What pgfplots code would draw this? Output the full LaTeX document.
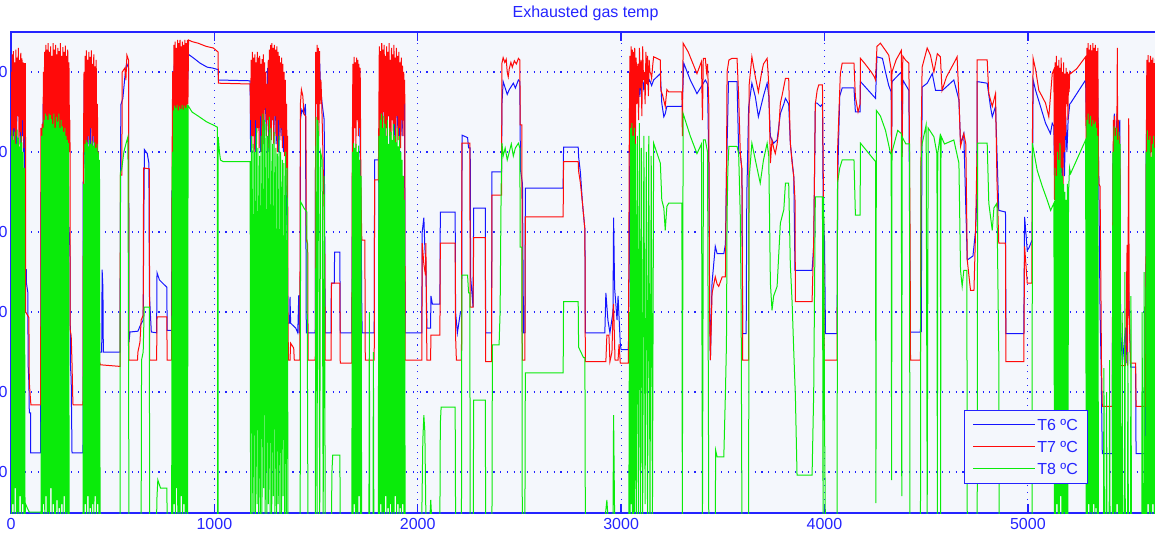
\documentclass[border=0pt]{standalone}
\usepackage{fontspec}
\setmainfont{Liberation Sans}
\usepackage{pgfplots}
\pgfplotsset{compat=1.18}
\usepackage{pgfplotstable}

\definecolor{plotbg}{RGB}{244,247,252}
\definecolor{frameblue}{RGB}{36,36,255}
\definecolor{tsix}{RGB}{20,20,255}
\definecolor{tseven}{RGB}{255,10,10}
\definecolor{teight}{RGB}{10,235,10}

% T6 exhaust temperature
\pgfplotstableread[row sep=\\]{
x y\\
0 590\\ 3 500\\ 6 600\\ 9 490\\ 12 605\\ 15 520\\ 18 596\\ 21 480\\ 24 610\\ 27 500\\ 30 590\\ 33 560\\ 36 584\\ 39 555\\ 42 600\\ 45 510\\ 48 598\\ 51 490\\ 54 602\\ 57 520\\ 60 595\\ 62 500\\ 64 590\\ 66 480\\ 68 600\\
70 353\\ 75 353\\ 76 336\\ 83 324\\ 84 236\\ 88 211\\ 90 174\\ 96 174\\ 97 124\\ 146 124\\
147 450\\ 152 350\\ 158 560\\ 164 420\\ 170 600\\ 176 450\\ 182 590\\ 188 480\\ 191 565\\ 194 610\\ 200 480\\ 206 600\\ 212 470\\ 218 595\\ 224 480\\ 230 590\\ 234 577\\ 238 548\\ 244 600\\ 250 460\\ 256 595\\ 262 470\\ 268 590\\ 274 480\\ 280 580\\ 284 400\\ 286 402\\ 290 377\\ 292 236\\ 296 215\\ 300 124\\ 354 124\\
355 463\\ 357 452\\ 360 590\\ 366 480\\ 372 605\\ 378 500\\ 384 600\\ 390 510\\ 396 605\\ 402 490\\ 408 598\\ 414 470\\ 416 250\\ 446 250\\ 448 353\\ 452 330\\ 454 250\\ 536 250\\
540 559\\ 550 567\\ 560 594\\ 568 611\\ 578 605\\ 580 262\\ 585 275\\ 624 276\\ 634 282\\ 640 285\\ 650 290\\ 652 380\\ 656 503\\ 670 498\\ 678 486\\ 681 319\\ 690 275\\ 716 274\\ 718 349\\ 730 340\\ 766 331\\ 768 277\\ 790 277\\
791 452\\ 794 415\\ 797 560\\ 803 610\\ 809 520\\ 815 621\\ 821 540\\ 827 615\\ 833 520\\ 839 621\\ 845 560\\ 851 618\\ 857 530\\ 863 620\\ 869 590\\ 873 622\\ 900 617\\ 930 611\\ 965 606\\ 990 605\\ 1018 603\\ 1020 590\\ 1176 589\\
1178 500\\ 1184 611\\ 1190 520\\ 1196 590\\ 1202 500\\ 1208 605\\ 1214 560\\ 1220 611\\ 1226 500\\ 1232 580\\ 1238 510\\ 1244 600\\ 1250 569\\ 1256 520\\ 1262 605\\ 1268 500\\ 1274 600\\ 1280 520\\ 1286 611\\ 1292 520\\ 1298 590\\ 1304 510\\ 1310 600\\ 1316 500\\ 1322 585\\ 1328 520\\ 1334 575\\ 1340 500\\ 1346 560\\ 1352 460\\ 1358 400\\ 1362 286\\
1370 286\\ 1372 319\\ 1375 286\\ 1400 280\\ 1410 274\\ 1415 321\\ 1418 274\\ 1422 274\\ 1423 540\\ 1430 553\\ 1440 548\\ 1448 560\\ 1452 274\\ 1496 274\\
1498 600\\ 1505 611\\ 1512 590\\ 1518 611\\ 1522 580\\ 1530 560\\ 1540 540\\ 1545 274\\ 1574 274\\ 1575 336\\ 1590 336\\ 1591 375\\ 1617 375\\ 1619 274\\ 1676 274\\
1680 520\\ 1686 582\\ 1692 530\\ 1698 575\\ 1704 544\\ 1710 580\\ 1716 520\\ 1722 400\\ 1725 300\\ 1727 274\\ 1786 274\\ 1788 490\\ 1808 490\\ 1810 273\\ 1812 420\\
1815 520\\ 1821 620\\ 1827 530\\ 1833 610\\ 1839 520\\ 1845 615\\ 1851 540\\ 1857 620\\ 1863 510\\ 1869 600\\ 1875 540\\ 1881 615\\ 1887 520\\ 1893 605\\ 1899 530\\ 1905 612\\ 1911 510\\ 1917 600\\ 1923 520\\ 1929 590\\ 1935 560\\ 1938 274\\
2020 274\\ 2022 400\\ 2030 418\\ 2035 380\\ 2040 361\\ 2045 280\\ 2063 280\\ 2065 320\\ 2072 310\\ 2109 310\\ 2111 425\\ 2184 425\\ 2186 300\\ 2195 274\\ 2210 300\\ 2216 300\\ 2218 521\\ 2245 518\\ 2250 505\\ 2258 505\\ 2260 344\\ 2272 306\\ 2275 430\\ 2332 430\\ 2334 274\\ 2363 274\\ 2365 475\\ 2412 475\\
2414 560\\ 2420 588\\ 2430 580\\ 2440 572\\ 2450 578\\ 2460 582\\ 2470 586\\ 2480 580\\ 2495 590\\ 2502 588\\ 2505 478\\ 2515 460\\ 2520 274\\ 2527 274\\ 2529 455\\ 2715 455\\ 2717 506\\ 2789 506\\ 2791 494\\ 2800 474\\ 2810 436\\ 2822 403\\ 2824 274\\ 2920 274\\
2925 324\\ 2935 290\\ 2945 274\\ 2960 300\\ 2963 418\\ 2968 330\\ 2980 290\\ 2985 320\\ 2996 260\\ 3000 253\\ 3036 253\\
3038 323\\ 3040 360\\ 3044 560\\ 3050 600\\ 3056 520\\ 3062 611\\ 3068 540\\ 3074 600\\ 3080 575\\ 3086 605\\ 3092 569\\ 3100 600\\ 3110 580\\ 3120 598\\ 3130 585\\ 3140 590\\ 3150 583\\ 3160 590\\ 3193 598\\ 3200 561\\ 3210 544\\ 3217 548\\ 3225 557\\ 3299 557\\
3301 560\\ 3308 611\\ 3340 590\\ 3373 573\\ 3395 582\\ 3414 590\\ 3425 585\\ 3431 486\\ 3436 290\\ 3439 240\\ 3447 336\\ 3463 382\\ 3472 373\\ 3505 373\\ 3513 385\\ 3518 473\\ 3528 588\\ 3570 588\\ 3578 500\\ 3586 498\\ 3594 478\\ 3598 273\\ 3615 273\\ 3618 444\\
3627 556\\ 3643 586\\ 3660 569\\ 3675 544\\ 3700 570\\ 3718 586\\ 3726 570\\ 3734 519\\ 3750 511\\ 3767 515\\ 3783 548\\ 3800 560\\ 3808 567\\ 3824 560\\ 3832 511\\ 3849 469\\ 3855 352\\ 3939 352\\ 3947 382\\ 3955 561\\ 3964 561\\ 3980 557\\ 3990 560\\ 3994 420\\ 4000 390\\ 4005 273\\ 4062 273\\
4065 470\\ 4075 570\\ 4087 580\\ 4145 580\\ 4152 550\\ 4175 550\\ 4177 588\\ 4251 567\\ 4258 619\\ 4285 617\\ 4300 600\\ 4316 583\\ 4328 575\\ 4330 500\\ 4332 588\\ 4378 600\\ 4382 500\\ 4385 590\\ 4415 577\\ 4421 275\\ 4472 275\\ 4474 365\\ 4476 275\\
4480 581\\ 4505 586\\ 4530 598\\ 4546 577\\ 4580 577\\ 4636 590\\ 4661 565\\ 4669 511\\ 4685 523\\ 4702 365\\ 4730 370\\ 4743 402\\ 4750 450\\ 4751 588\\ 4800 586\\ 4816 557\\ 4825 544\\ 4841 557\\ 4857 427\\ 4890 425\\ 4892 273\\ 4980 273\\
4984 419\\ 4997 377\\ 5005 380\\ 5021 390\\ 5026 590\\ 5038 577\\ 5062 557\\ 5087 536\\ 5111 523\\ 5120 536\\ 5128 532\\
5132 450\\ 5138 561\\ 5144 440\\ 5150 540\\ 5156 436\\ 5162 555\\ 5168 450\\ 5174 530\\ 5180 470\\ 5186 545\\ 5192 500\\ 5198 540\\ 5206 560\\ 5210 561\\ 5284 590\\
5288 530\\ 5294 600\\ 5300 540\\ 5306 615\\ 5312 560\\ 5318 605\\ 5324 540\\ 5330 610\\ 5336 570\\ 5342 600\\ 5349 461\\ 5355 302\\ 5360 236\\ 5366 123\\ 5415 123\\
5418 480\\ 5425 548\\ 5430 470\\ 5438 548\\ 5445 480\\ 5452 540\\ 5456 277\\ 5465 236\\ 5480 280\\ 5483 236\\ 5492 360\\ 5500 290\\ 5505 231\\ 5530 231\\ 5532 123\\ 5579 123\\
5582 500\\ 5588 600\\ 5594 520\\ 5600 595\\ 5606 510\\ 5612 600\\ 5618 500\\ 5624 590\\ 5630 520\\ 5640 580\\
}\tsixdata

% T7 exhaust temperature
\pgfplotstableread[row sep=\\]{
x y\\
0 600\\ 3 515\\ 6 622\\ 9 505\\ 12 626\\ 15 530\\ 18 612\\ 21 500\\ 24 628\\ 27 520\\ 30 618\\ 33 545\\ 36 630\\ 39 508\\ 42 615\\ 45 525\\ 48 624\\ 51 500\\ 54 617\\ 57 540\\ 60 612\\ 63 505\\ 66 611\\ 69 520\\ 71 611\\
72 300\\ 88 293\\ 90 212\\ 96 190\\ 98 184\\ 146 184\\
147 530\\ 150 365\\ 153 535\\ 156 380\\ 159 600\\ 162 420\\ 165 625\\ 168 470\\ 171 634\\ 174 455\\ 177 628\\ 180 480\\ 183 636\\ 186 465\\ 189 625\\ 192 500\\ 195 632\\ 198 470\\ 201 620\\ 204 455\\ 207 636\\ 210 490\\ 213 628\\ 216 470\\ 219 634\\ 222 505\\ 225 622\\ 228 460\\ 231 630\\ 234 480\\ 237 626\\ 240 500\\ 243 636\\ 246 470\\ 249 620\\ 252 490\\ 255 631\\ 258 475\\ 261 625\\ 264 500\\ 267 633\\ 270 465\\ 273 620\\ 276 495\\ 279 628\\ 282 470\\ 285 612\\ 288 500\\ 290 540\\
291 278\\ 296 270\\ 300 236\\ 304 190\\ 305 184\\ 354 184\\
356 480\\ 359 600\\ 362 500\\ 365 620\\ 368 510\\ 371 627\\ 374 495\\ 377 615\\ 380 520\\ 383 625\\ 386 505\\ 389 619\\ 392 530\\ 395 627\\ 398 500\\ 401 610\\ 404 520\\ 407 622\\ 410 498\\ 413 607\\ 416 470\\ 419 615\\ 422 440\\ 425 560\\ 428 407\\ 430 500\\ 432 240\\ 440 234\\ 536 232\\
538 471\\ 545 471\\ 547 600\\ 560 605\\ 565 590\\ 570 621\\ 578 615\\ 580 240\\ 622 240\\ 624 250\\ 634 262\\ 640 290\\ 650 296\\ 652 480\\ 680 479\\ 682 240\\ 716 240\\ 718 294\\ 766 294\\ 768 240\\ 790 240\\
792 486\\ 795 600\\ 798 500\\ 801 634\\ 804 520\\ 807 638\\ 810 490\\ 813 630\\ 816 540\\ 819 640\\ 822 500\\ 825 636\\ 828 520\\ 831 640\\ 834 495\\ 837 632\\ 840 530\\ 843 638\\ 846 505\\ 849 634\\ 852 545\\ 855 640\\ 858 510\\ 861 636\\ 864 530\\ 867 640\\ 870 560\\ 873 640\\
890 638\\ 920 636\\ 960 632\\ 995 630\\ 1018 625\\ 1020 586\\ 1176 585\\
1178 540\\ 1181 615\\ 1184 505\\ 1187 625\\ 1190 520\\ 1193 618\\ 1196 500\\ 1199 622\\ 1202 540\\ 1205 612\\ 1208 510\\ 1211 625\\ 1214 530\\ 1217 618\\ 1220 505\\ 1223 620\\ 1226 545\\ 1229 610\\ 1232 500\\ 1235 616\\ 1238 530\\ 1241 622\\ 1244 510\\ 1247 612\\ 1250 555\\ 1253 600\\ 1256 520\\ 1259 585\\ 1262 540\\ 1265 615\\ 1268 505\\ 1271 628\\ 1274 530\\ 1277 634\\ 1280 515\\ 1283 636\\ 1286 540\\ 1289 630\\ 1292 510\\ 1295 634\\ 1298 545\\ 1301 628\\ 1304 520\\ 1307 632\\ 1310 500\\ 1313 625\\ 1316 540\\ 1319 620\\ 1322 515\\ 1325 612\\ 1328 530\\ 1331 618\\ 1334 505\\ 1337 610\\ 1340 520\\ 1343 600\\ 1346 495\\ 1349 590\\ 1352 480\\ 1355 560\\ 1358 450\\ 1360 520\\ 1362 300\\ 1364 240\\
1372 240\\ 1375 261\\ 1390 255\\ 1393 240\\ 1420 240\\ 1423 560\\ 1428 578\\ 1435 570\\ 1440 548\\ 1450 544\\ 1452 390\\ 1459 385\\ 1461 240\\ 1496 240\\
1498 625\\ 1502 560\\ 1505 634\\ 1508 540\\ 1511 630\\ 1514 520\\ 1517 626\\ 1520 560\\ 1524 590\\ 1528 560\\ 1532 520\\ 1536 470\\ 1540 420\\ 1543 368\\ 1545 240\\ 1574 240\\ 1576 336\\ 1617 336\\ 1619 236\\ 1676 236\\
1678 480\\ 1681 610\\ 1684 510\\ 1687 619\\ 1690 530\\ 1693 612\\ 1696 505\\ 1699 618\\ 1702 540\\ 1705 615\\ 1708 520\\ 1711 610\\ 1714 530\\ 1717 605\\ 1720 480\\ 1722 430\\ 1725 390\\ 1740 390\\ 1742 240\\ 1786 240\\ 1788 465\\ 1806 465\\
1808 520\\ 1811 632\\ 1814 505\\ 1817 626\\ 1820 540\\ 1823 636\\ 1826 510\\ 1829 628\\ 1832 550\\ 1835 634\\ 1838 515\\ 1841 620\\ 1844 530\\ 1847 632\\ 1850 505\\ 1853 625\\ 1856 545\\ 1859 636\\ 1862 520\\ 1865 615\\ 1868 500\\ 1871 630\\ 1874 540\\ 1877 622\\ 1880 510\\ 1883 634\\ 1886 535\\ 1889 618\\ 1892 505\\ 1895 630\\ 1898 545\\ 1901 620\\ 1904 515\\ 1907 625\\ 1910 530\\ 1913 612\\ 1916 505\\ 1919 618\\ 1922 540\\ 1925 608\\ 1928 520\\ 1931 600\\ 1934 560\\ 1936 590\\ 1938 240\\
2020 240\\ 2022 386\\ 2030 360\\ 2038 346\\ 2040 386\\ 2045 240\\ 2063 240\\ 2065 271\\ 2109 271\\ 2111 386\\ 2184 386\\ 2186 270\\ 2190 240\\ 2215 240\\ 2217 511\\ 2256 511\\ 2258 306\\ 2272 306\\ 2275 393\\ 2332 393\\ 2334 238\\ 2363 238\\ 2365 446\\ 2412 446\\
2414 611\\ 2420 618\\ 2428 612\\ 2435 616\\ 2440 600\\ 2445 594\\ 2450 604\\ 2458 612\\ 2465 606\\ 2475 614\\ 2485 610\\ 2495 617\\ 2502 615\\ 2504 534\\ 2512 534\\ 2514 240\\ 2527 240\\ 2529 419\\ 2715 419\\ 2717 488\\ 2789 488\\ 2791 476\\ 2800 461\\ 2810 436\\ 2822 403\\ 2824 238\\ 2920 238\\
2925 238\\ 2930 271\\ 2940 271\\ 2945 238\\ 2955 250\\ 2960 300\\ 2963 310\\ 2970 240\\ 2985 240\\ 2990 260\\ 2996 236\\ 3036 236\\
3040 510\\ 3043 620\\ 3046 500\\ 3049 632\\ 3052 515\\ 3055 628\\ 3058 480\\ 3061 625\\ 3064 520\\ 3067 630\\ 3070 505\\ 3074 618\\ 3078 560\\ 3082 610\\ 3086 540\\ 3090 630\\ 3094 580\\ 3098 615\\ 3102 545\\ 3106 632\\ 3110 590\\ 3114 600\\ 3118 560\\ 3122 625\\ 3126 585\\ 3130 620\\ 3134 570\\ 3138 615\\ 3142 600\\ 3146 598\\ 3150 592\\ 3156 610\\ 3160 619\\
3193 615\\ 3195 578\\ 3205 570\\ 3217 557\\ 3225 578\\ 3234 575\\ 3299 575\\ 3301 520\\ 3305 636\\ 3330 625\\ 3373 598\\ 3395 613\\ 3400 540\\ 3404 617\\ 3414 617\\ 3420 600\\ 3425 610\\ 3431 560\\ 3435 300\\ 3439 240\\
3447 323\\ 3463 344\\ 3472 335\\ 3480 332\\ 3497 344\\ 3513 344\\ 3518 473\\ 3521 600\\ 3530 615\\ 3545 617\\ 3570 617\\ 3578 570\\ 3586 498\\ 3594 478\\ 3598 240\\ 3627 240\\
3629 582\\ 3643 619\\ 3660 594\\ 3675 575\\ 3690 598\\ 3700 610\\ 3718 617\\ 3726 585\\ 3734 486\\ 3742 515\\ 3750 505\\ 3758 498\\ 3767 510\\ 3775 527\\ 3783 561\\ 3791 570\\ 3808 592\\ 3824 592\\ 3832 511\\ 3841 486\\ 3849 469\\ 3855 440\\ 3857 313\\ 3939 313\\
3947 390\\ 3955 560\\ 3964 577\\ 3972 584\\ 3990 584\\ 3994 470\\ 3999 240\\ 4062 240\\
4065 507\\ 4078 598\\ 4087 611\\ 4145 611\\ 4152 569\\ 4165 550\\ 4175 560\\ 4177 617\\ 4200 610\\ 4230 600\\ 4245 594\\ 4251 590\\ 4258 632\\ 4275 636\\ 4300 627\\ 4316 621\\ 4328 603\\ 4330 494\\ 4332 600\\ 4352 615\\ 4378 627\\ 4382 494\\ 4385 620\\ 4398 615\\ 4415 611\\ 4421 390\\ 4423 240\\ 4472 240\\
4474 482\\ 4480 606\\ 4505 630\\ 4521 621\\ 4538 600\\ 4555 623\\ 4570 619\\ 4578 577\\ 4600 594\\ 4636 611\\ 4652 619\\ 4661 569\\ 4669 507\\ 4685 523\\ 4695 510\\ 4702 365\\ 4718 327\\ 4735 327\\ 4743 402\\ 4750 500\\
4751 615\\ 4800 615\\ 4808 573\\ 4825 557\\ 4841 573\\ 4848 465\\ 4857 386\\ 4890 386\\ 4892 238\\ 4980 238\\
4984 382\\ 4997 336\\ 5020 336\\ 5021 480\\ 5026 617\\ 5038 603\\ 5054 577\\ 5071 569\\ 5087 561\\ 5103 544\\ 5120 598\\ 5128 603\\
5131 440\\ 5134 612\\ 5137 450\\ 5140 620\\ 5143 470\\ 5146 608\\ 5149 436\\ 5152 615\\ 5155 460\\ 5158 605\\ 5161 440\\ 5164 618\\ 5167 480\\ 5170 600\\ 5173 450\\ 5176 612\\ 5179 500\\ 5182 598\\ 5185 520\\ 5188 605\\ 5191 560\\ 5194 600\\ 5197 540\\ 5200 598\\ 5203 575\\ 5206 600\\ 5210 598\\ 5240 604\\ 5284 619\\
5287 480\\ 5290 630\\ 5293 470\\ 5296 636\\ 5299 500\\ 5302 628\\ 5305 480\\ 5308 634\\ 5311 520\\ 5314 627\\ 5317 490\\ 5320 636\\ 5323 470\\ 5326 630\\ 5329 510\\ 5332 634\\ 5335 485\\ 5338 626\\ 5341 520\\ 5344 630\\ 5347 495\\ 5349 460\\ 5355 457\\ 5360 302\\ 5362 235\\ 5366 182\\ 5415 182\\
5418 470\\ 5421 540\\ 5424 460\\ 5427 545\\ 5430 480\\ 5433 530\\ 5436 460\\ 5440 630\\ 5442 470\\ 5445 540\\ 5448 470\\ 5451 520\\ 5454 460\\ 5456 233\\ 5480 233\\ 5488 384\\ 5490 233\\ 5496 542\\ 5498 300\\ 5505 236\\ 5530 236\\ 5532 182\\ 5579 182\\
5582 480\\ 5585 615\\ 5588 470\\ 5591 621\\ 5594 490\\ 5597 612\\ 5600 460\\ 5603 620\\ 5606 500\\ 5609 615\\ 5612 470\\ 5615 618\\ 5618 490\\ 5621 611\\ 5624 480\\ 5627 616\\ 5630 500\\ 5640 610\\
}\tsevendata

% T8 exhaust temperature
\pgfplotstableread[row sep=\\]{
x y\\
0 520\\ 3 45\\ 6 527\\ 9 60\\ 12 515\\ 15 45\\ 18 525\\ 21 80\\ 24 510\\ 27 45\\ 30 528\\ 33 50\\ 36 518\\ 39 45\\ 42 507\\ 45 70\\ 48 520\\ 51 45\\ 54 512\\ 57 60\\ 60 500\\ 63 45\\ 66 480\\ 69 45\\
72 60\\ 80 55\\ 90 50\\ 146 50\\
148 45\\ 151 520\\ 154 45\\ 157 530\\ 160 60\\ 163 540\\ 166 45\\ 169 548\\ 172 70\\ 175 545\\ 178 45\\ 181 540\\ 184 50\\ 187 548\\ 190 45\\ 193 546\\ 196 80\\ 199 541\\ 202 45\\ 205 535\\ 208 60\\ 211 548\\ 214 45\\ 217 530\\ 220 45\\ 223 544\\ 226 65\\ 229 538\\ 232 45\\ 235 548\\ 238 55\\ 241 530\\ 244 45\\ 247 540\\ 250 60\\ 253 532\\ 256 45\\ 259 525\\ 262 70\\ 265 530\\ 268 45\\ 271 520\\ 274 50\\ 277 515\\ 280 45\\ 283 511\\ 286 45\\ 354 45\\
357 460\\ 360 45\\ 363 510\\ 366 60\\ 369 515\\ 372 45\\ 375 512\\ 378 70\\ 381 507\\ 384 45\\ 387 515\\ 390 55\\ 393 510\\ 396 45\\ 399 514\\ 402 60\\ 405 508\\ 408 45\\ 411 512\\ 414 70\\ 417 505\\ 420 45\\ 423 510\\ 426 60\\ 429 500\\ 432 45\\ 435 490\\ 438 50\\ 441 45\\ 536 45\\
538 474\\ 545 480\\ 555 500\\ 565 510\\ 575 519\\ 580 45\\ 640 45\\ 642 240\\ 650 250\\ 655 306\\ 680 306\\ 682 45\\ 716 45\\ 718 70\\ 722 90\\ 735 80\\ 766 80\\ 768 45\\ 790 45\\
793 500\\ 796 45\\ 799 552\\ 802 60\\ 805 558\\ 808 45\\ 811 555\\ 814 80\\ 817 559\\ 820 45\\ 823 552\\ 826 50\\ 829 557\\ 832 45\\ 835 554\\ 838 70\\ 841 559\\ 844 45\\ 847 553\\ 850 60\\ 853 558\\ 856 45\\ 859 555\\ 862 50\\ 865 559\\ 868 45\\ 871 558\\
890 550\\ 920 545\\ 960 538\\ 1000 533\\ 1015 531\\ 1016 45\\ 1018 45\\ 1019 519\\ 1025 500\\ 1030 490\\ 1043 488\\ 1176 488\\
1178 45\\ 1182 520\\ 1186 45\\ 1190 510\\ 1194 50\\ 1198 500\\ 1202 45\\ 1206 530\\ 1210 60\\ 1214 505\\ 1218 45\\ 1222 495\\ 1226 45\\ 1230 520\\ 1234 45\\ 1238 548\\ 1242 80\\ 1246 540\\ 1250 45\\ 1254 535\\ 1258 45\\ 1262 520\\ 1266 60\\ 1270 544\\ 1274 45\\ 1278 530\\ 1282 45\\ 1286 510\\ 1290 70\\ 1294 525\\ 1298 45\\ 1302 505\\ 1306 45\\ 1310 498\\ 1314 60\\ 1318 520\\ 1322 45\\ 1326 500\\ 1330 45\\ 1334 490\\ 1338 70\\ 1342 486\\ 1346 45\\ 1350 500\\ 1354 45\\ 1358 480\\ 1362 45\\
1422 45\\ 1424 438\\ 1440 430\\ 1455 425\\ 1460 45\\ 1496 45\\ 1500 544\\ 1505 45\\ 1508 540\\ 1512 520\\ 1518 45\\ 1522 500\\ 1530 490\\ 1535 45\\ 1540 470\\ 1545 45\\ 1576 45\\ 1578 100\\ 1582 121\\ 1617 121\\ 1619 45\\ 1676 45\\
1679 500\\ 1682 45\\ 1685 511\\ 1688 60\\ 1691 505\\ 1694 45\\ 1697 510\\ 1700 50\\ 1703 500\\ 1706 45\\ 1709 508\\ 1712 70\\ 1715 490\\ 1718 45\\ 1721 470\\ 1724 45\\ 1760 45\\ 1762 300\\ 1764 45\\ 1780 45\\ 1782 250\\ 1784 45\\ 1806 45\\
1809 520\\ 1812 45\\ 1815 540\\ 1818 60\\ 1821 548\\ 1824 45\\ 1827 530\\ 1830 50\\ 1833 545\\ 1836 45\\ 1839 535\\ 1842 70\\ 1845 520\\ 1848 45\\ 1851 540\\ 1854 55\\ 1857 510\\ 1860 45\\ 1863 530\\ 1866 60\\ 1869 525\\ 1872 45\\ 1875 515\\ 1878 50\\ 1881 535\\ 1884 45\\ 1887 520\\ 1890 70\\ 1893 512\\ 1896 45\\ 1899 530\\ 1902 60\\ 1905 507\\ 1908 45\\ 1911 520\\ 1914 55\\ 1917 500\\ 1920 45\\ 1923 490\\ 1926 60\\ 1929 470\\ 1932 45\\ 1935 440\\ 1938 45\\
2020 45\\ 2025 140\\ 2030 171\\ 2035 150\\ 2040 45\\ 2060 45\\ 2064 65\\ 2068 45\\ 2109 45\\ 2111 160\\ 2115 181\\ 2184 181\\ 2186 45\\ 2215 45\\ 2217 346\\ 2245 346\\ 2250 324\\ 2256 324\\ 2258 45\\ 2273 45\\ 2275 190\\ 2332 190\\ 2334 45\\ 2365 45\\ 2367 259\\ 2400 259\\ 2405 300\\ 2410 452\\
2414 511\\ 2420 495\\ 2430 505\\ 2440 490\\ 2450 500\\ 2460 510\\ 2470 495\\ 2480 505\\ 2495 511\\ 2502 505\\ 2504 381\\ 2512 381\\ 2514 45\\ 2527 45\\ 2529 224\\ 2715 224\\ 2717 313\\ 2789 313\\ 2791 256\\ 2815 243\\ 2822 243\\ 2824 45\\ 2922 45\\ 2930 65\\ 2935 45\\ 2960 45\\ 2963 171\\ 2968 45\\ 3036 45\\
3038 45\\ 3041 300\\ 3044 45\\ 3047 530\\ 3050 60\\ 3053 536\\ 3056 45\\ 3059 520\\ 3062 45\\ 3065 530\\ 3068 50\\ 3071 510\\ 3076 45\\ 3080 520\\ 3086 45\\ 3090 536\\ 3096 45\\ 3100 505\\ 3106 45\\ 3112 520\\ 3118 60\\ 3124 500\\ 3130 45\\ 3136 520\\ 3142 45\\ 3148 495\\ 3154 45\\ 3160 511\\
3193 486\\ 3200 440\\ 3210 430\\ 3217 402\\ 3225 432\\ 3234 436\\ 3299 436\\ 3301 45\\ 3305 548\\ 3340 520\\ 3373 498\\ 3395 510\\ 3400 45\\ 3405 515\\ 3414 515\\ 3425 500\\ 3431 45\\ 3463 45\\ 3465 127\\ 3472 119\\ 3505 119\\ 3513 200\\ 3518 261\\ 3521 420\\ 3525 480\\ 3530 507\\ 3570 507\\ 3578 498\\ 3586 420\\ 3590 315\\ 3594 45\\ 3627 45\\
3629 465\\ 3643 511\\ 3660 490\\ 3684 461\\ 3700 490\\ 3718 511\\ 3726 495\\ 3734 336\\ 3742 302\\ 3750 320\\ 3767 332\\ 3783 411\\ 3800 428\\ 3808 461\\ 3824 461\\ 3832 360\\ 3841 311\\ 3849 250\\ 3857 194\\ 3865 96\\ 3939 96\\ 3947 200\\ 3955 444\\ 3990 444\\ 3993 45\\ 3996 444\\ 4000 173\\ 4004 45\\ 4062 45\\
4064 461\\ 4075 480\\ 4087 490\\ 4145 490\\ 4152 421\\ 4175 421\\ 4177 511\\ 4251 488\\ 4253 61\\ 4255 552\\ 4275 545\\ 4300 527\\ 4325 498\\ 4328 498\\ 4330 90\\ 4332 500\\ 4360 527\\ 4378 523\\ 4380 70\\ 4382 519\\ 4400 510\\ 4418 510\\ 4420 45\\ 4472 45\\
4474 480\\ 4480 510\\ 4500 534\\ 4505 45\\ 4510 530\\ 4538 519\\ 4553 498\\ 4555 45\\ 4557 498\\ 4570 523\\ 4571 45\\ 4573 520\\ 4590 510\\ 4636 515\\ 4661 486\\ 4669 352\\ 4677 332\\ 4685 352\\ 4700 352\\ 4702 45\\ 4751 45\\
4753 511\\ 4800 511\\ 4808 436\\ 4825 402\\ 4833 430\\ 4848 436\\ 4857 248\\ 4859 45\\ 5021 45\\ 5022 511\\ 5046 477\\ 5071 457\\ 5095 440\\ 5112 427\\ 5128 436\\
5131 45\\ 5134 480\\ 5137 45\\ 5140 470\\ 5143 60\\ 5146 500\\ 5149 45\\ 5152 490\\ 5155 45\\ 5158 511\\ 5161 70\\ 5164 480\\ 5167 45\\ 5170 470\\ 5173 45\\ 5176 460\\ 5179 50\\ 5182 450\\ 5185 45\\ 5188 440\\ 5191 45\\ 5194 460\\ 5197 45\\ 5200 450\\ 5205 480\\ 5210 473\\ 5284 515\\
5287 45\\ 5290 540\\ 5293 45\\ 5296 548\\ 5299 60\\ 5302 535\\ 5305 45\\ 5308 545\\ 5311 50\\ 5314 532\\ 5317 45\\ 5320 540\\ 5323 60\\ 5326 535\\ 5329 45\\ 5332 538\\ 5335 55\\ 5338 530\\ 5341 45\\ 5344 520\\ 5347 45\\
5372 45\\ 5374 230\\ 5376 45\\ 5385 45\\ 5387 200\\ 5389 45\\ 5400 45\\ 5402 240\\ 5404 45\\ 5415 45\\
5418 500\\ 5421 45\\ 5424 532\\ 5427 50\\ 5430 520\\ 5433 45\\ 5436 530\\ 5439 60\\ 5442 515\\ 5445 45\\ 5448 525\\ 5451 45\\ 5454 510\\ 5456 45\\
5462 45\\ 5464 300\\ 5466 45\\ 5475 45\\ 5477 350\\ 5479 45\\ 5490 45\\ 5492 250\\ 5494 45\\ 5505 45\\ 5507 320\\ 5509 45\\ 5560 45\\ 5562 300\\ 5564 45\\ 5570 45\\ 5572 350\\ 5574 45\\ 5579 45\\
5582 500\\ 5585 45\\ 5588 527\\ 5591 60\\ 5594 515\\ 5597 45\\ 5600 520\\ 5603 50\\ 5606 494\\ 5609 45\\ 5612 510\\ 5615 60\\ 5618 520\\ 5621 45\\ 5624 505\\ 5627 45\\ 5630 515\\ 5640 45\\
}\teightdata

\begin{document}
\begin{tikzpicture}
\begin{axis}[
  scale only axis,
  width=1149pt, height=481pt,
  xmin=0, xmax=5650, ymin=48.75, ymax=650,
  axis background/.style={fill=plotbg},
  axis line style={frameblue, line width=1.3pt},
  xtick={0,1000,2000,3000,4000,5000},
  ytick={100,200,300,400,500,600},
  grid=major,
  major grid style={frameblue, line width=1.1pt, dash pattern=on 1.1pt off 5.6pt},
  tick align=inside,
  major tick length=9pt,
  x tick style={frameblue, line width=1.3pt},
  y tick style={draw=none},
  ticklabel style={text=frameblue, font=\fontsize{16}{16}\selectfont},
  /pgf/number format/assume math mode=true,
  /pgf/number format/set thousands separator={},
  xticklabel style={yshift=-1.5pt},
  title={Exhausted gas temp},
  title style={text=frameblue, font=\fontsize{16}{16}\selectfont, yshift=2pt},
  legend style={at={(0.9373,0.0603)}, anchor=south east,
    draw=frameblue, line width=1.3pt, fill=plotbg,
    font=\fontsize{16}{16}\selectfont, text=frameblue,
    inner xsep=8pt, inner ysep=7pt, row sep=7pt,
    nodes={inner sep=1.5pt, text height=12pt, text depth=0pt}},
  legend cell align=left,
  legend image code/.code={\draw[#1] (0pt,0pt) -- (62pt,0pt);},
  every axis plot/.append style={line width=1pt, line join=miter},
]
\addplot[tsix, line width=1pt] table[x=x, y=y] {\tsixdata};
\addlegendentry{T6 ºC}
\addplot[tseven, line width=1pt] table[x=x, y=y] {\tsevendata};
\addlegendentry{T7 ºC}
\addplot[teight, line width=1pt] table[x=x, y=y] {\teightdata};
\addlegendentry{T8 ºC}
\end{axis}
\pgfresetboundingbox
\path[use as bounding box] (-11pt,-26pt) rectangle (1144pt,513pt);
\end{tikzpicture}
\end{document}
